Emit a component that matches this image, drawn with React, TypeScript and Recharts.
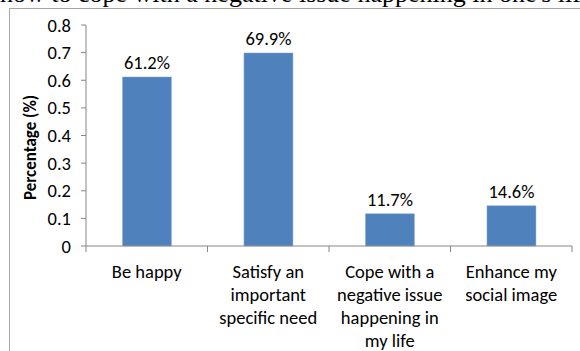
import { Bar, BarChart, LabelList, XAxis, YAxis } from "recharts";

const categories = [
  "Be happy",
  "Satisfy an\nimportant\nspecific need",
  "Cope with a\nnegative issue\nhappening in\nmy life",
  "Enhance my\nsocial image",
];
const shares = [0.612, 0.699, 0.117, 0.146];
const shareLabels = ["61.2%", "69.9%", "11.7%", "14.6%"];
const yTicks = [0, 0.1, 0.2, 0.3, 0.4, 0.5, 0.6, 0.7, 0.8];

const data = categories.map((name, i) => ({
  name,
  value: shares[i],
  label: shareLabels[i],
}));

const W = 580;
const H = 351;
const X_AXIS_H = 105;
const MARGIN = { top: 25, right: 8, bottom: 0, left: 0 };
const Y_AXIS_W = 86;
const PLOT_W = W - MARGIN.left - MARGIN.right - Y_AXIS_W;
const HALF_BAND = PLOT_W / categories.length / 2;
const FONT = "Carlito, Lato, 'Open Sans', sans-serif";
const FS = 18.5;
const AXIS = "#868686";

function CategoryTick(props: any) {
  const { x, y, payload, index } = props;
  const lines = String(payload.value).split("\n");
  return (
    <g>
      <line x1={x - HALF_BAND} x2={x - HALF_BAND} y1={y} y2={y + 6} stroke={AXIS} />
      {index === categories.length - 1 && (
        <line x1={x + HALF_BAND} x2={x + HALF_BAND} y1={y} y2={y + 6} stroke={AXIS} />
      )}
      <text x={x} y={y} textAnchor="middle" fontSize={FS} fontFamily={FONT} fill="#000">
        {lines.map((t, i) => (
          <tspan key={i} x={x} dy={i === 0 ? 32 : 23}>
            {t}
          </tspan>
        ))}
      </text>
    </g>
  );
}

function YTitle(props: any) {
  const vb = props.viewBox;
  const cx = vb.x + 30;
  const cy = vb.y + vb.height / 2 + 12;
  return (
    <text
      x={cx}
      y={cy}
      transform={`rotate(-90 ${cx} ${cy})`}
      textAnchor="middle"
      dominantBaseline="central"
      fontSize={17}
      fontWeight="bold"
      fontFamily={FONT}
      fill="#000"
    >
      Percentage (%)
    </text>
  );
}

export default function App() {
  return (
    <div style={{ position: "absolute", left: 0, top: 0, width: W, height: H, overflow: "hidden", background: "#fff" }}>
      <div
        style={{
          position: "absolute",
          left: 0,
          top: -19,
          width: W,
          textAlign: "center",
          whiteSpace: "nowrap",
          fontFamily: "'Liberation Serif', 'Times New Roman', serif",
          fontSize: 26,
          lineHeight: "26px",
          color: "#000",
        }}
      >
        how to cope with a negative issue happening in one's life
      </div>
      <div
        style={{
          position: "absolute",
          left: 9,
          top: 8,
          width: W,
          height: H,
          borderLeft: "1px solid #a6a6a6",
          borderTop: "1px solid #a6a6a6",
        }}
      />
      <div style={{ position: "absolute", left: 0, top: 0 }}>
        <BarChart width={W} height={H} data={data} margin={MARGIN} barCategoryGap="30%">
          <XAxis
            dataKey="name"
            interval={0}
            tickLine={false}
            tickSize={0}
            tickMargin={0}
            height={X_AXIS_H}
            stroke={AXIS}
            tick={<CategoryTick />}
          />
          <YAxis
            width={Y_AXIS_W}
            domain={[0, 0.8]}
            ticks={yTicks}
            interval={0}
            tickSize={5}
            tickMargin={10}
            stroke={AXIS}
            tick={{ fill: "#000", fontSize: FS, fontFamily: FONT }}
            label={<YTitle />}
          />
          <Bar dataKey="value" fill="#4f81bd" stroke="#8fb0d8" strokeWidth={0.5} isAnimationActive={false}>
            <LabelList dataKey="label" position="top" offset={8} fill="#000" fontSize={FS} fontFamily={FONT} />
          </Bar>
        </BarChart>
      </div>
    </div>
  );
}
